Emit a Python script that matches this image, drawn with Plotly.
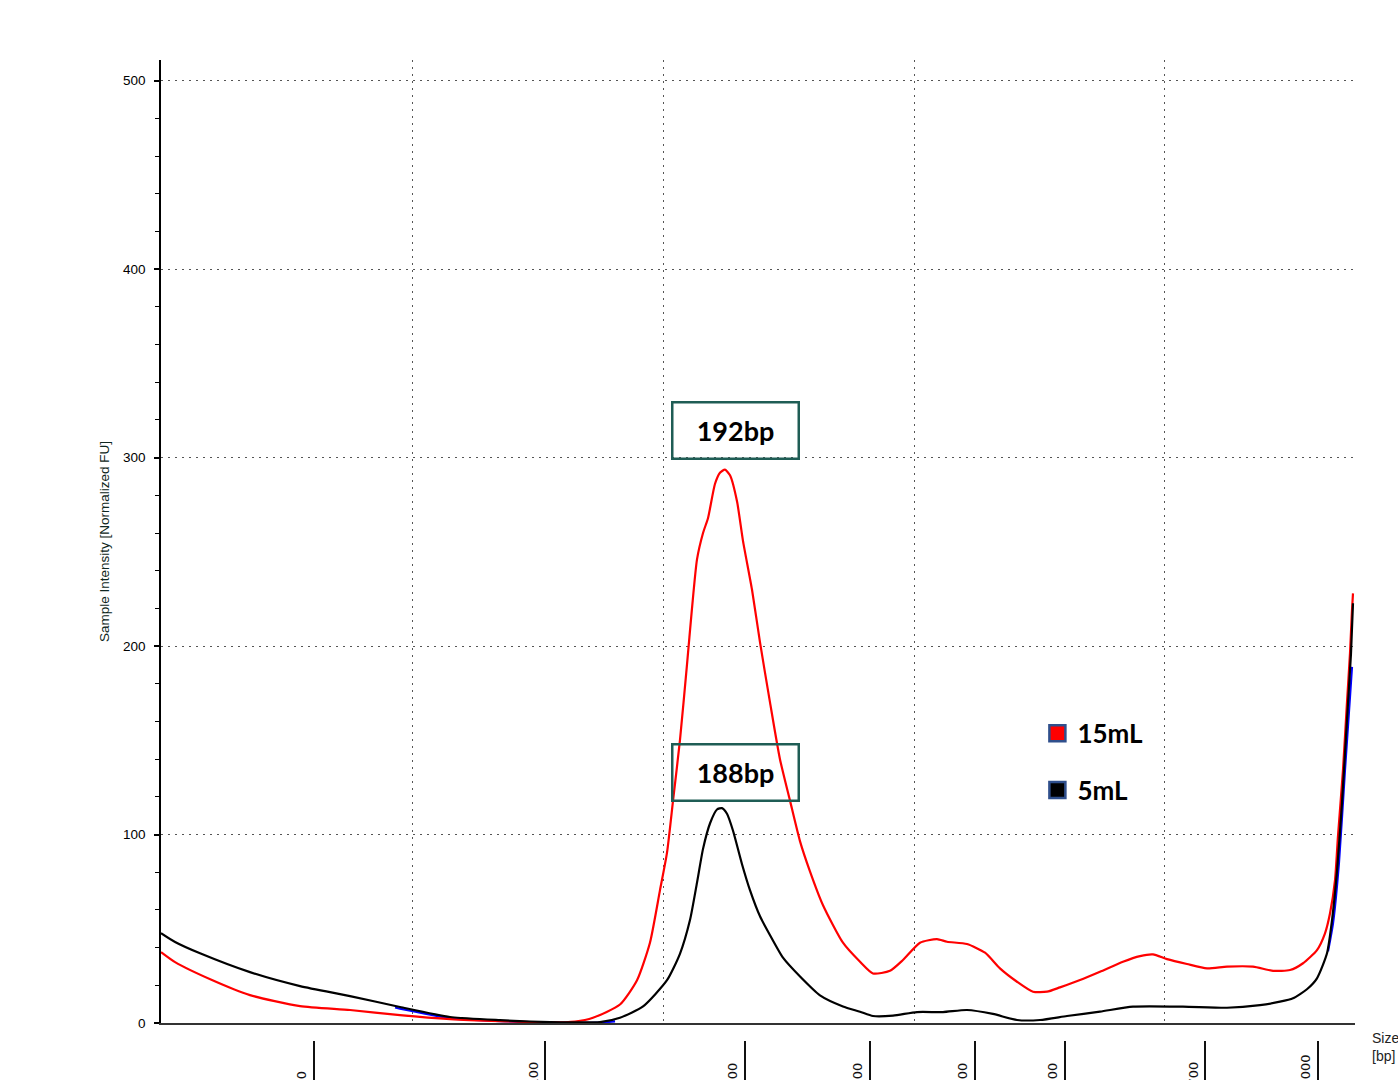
import plotly.graph_objects as go

# Electropherogram: migration position (a.u.) vs. normalized fluorescence (FU)
pos_15ml = [0, 1.12, 4.06, 7.09, 11.08, 15.06, 19.04, 23.03, 27.01, 31.0, 32.99, 34.42,
            36.57, 37.93, 38.96, 39.76, 40.32, 40.80, 41.35, 41.91, 42.31, 42.71, 43.19,
            43.59, 44.14, 44.54, 44.94, 45.34, 45.90, 46.37, 47.09, 47.73, 48.53, 49.32,
            50.12, 50.92, 51.71, 52.75, 54.34, 55.70, 56.73, 58.09, 59.12, 60.48, 61.83,
            62.63, 64.22, 65.66, 66.85, 68.21, 69.48, 70.60, 71.63, 73.23, 74.82, 76.65,
            78.01, 79.04, 80.16, 81.75, 83.35, 84.94, 87.01, 88.61, 89.96, 91.0, 92.11,
            92.75, 93.15, 93.55, 93.78, 94.18, 94.50, 94.74, 94.90, 94.98]
fu_15ml = [37.6, 32.3, 22.8, 14.8, 9.0, 6.9, 4.2, 2.1, 1.0, 0.3, 0.8, 2.8,
           9.8, 22.7, 42.6, 70.5, 90.4, 118, 150, 190, 220, 246, 260,
           268, 286, 292, 293.6, 290.6, 276.7, 256, 230, 202, 170, 140,
           118, 96.4, 80.5, 62.5, 42.6, 32.5, 26.3, 27.7, 33.4, 42.6, 44.5,
           43.1, 41.9, 37.3, 29, 21.9, 16.6, 16.6, 18.9, 22.8, 27.2, 32.5,
           35.5, 36.4, 33.9, 31.3, 29, 29.9, 29.9, 27.7, 28.1, 31.7, 38.7,
           47.6, 58.2, 76, 98.8, 134, 170, 196, 219, 228]

pos_5ml = [0, 1.12, 3.11, 7.09, 11.08, 15.06, 19.04, 23.03, 27.01, 31.0, 34.98, 36.57,
           38.41, 40.32, 41.35, 42.15, 42.71, 43.19, 43.75, 44.30, 44.70, 45.10, 45.58,
           46.29, 46.93, 47.73, 48.53, 49.56, 50.92, 52.51, 54.34, 55.70, 56.73, 58.33,
           60.24, 62.31, 64.22, 66.29, 68.21, 70.04, 72.19, 74.82, 77.45, 81.43, 84.94,
           87.57, 89.16, 90.20, 91.31, 92.11, 92.91, 93.31, 93.71, 94.10, 94.50, 94.82,
           94.98]
fu_5ml = [47.7, 43, 37, 27, 19.6, 14.3, 8.5, 3.2, 1.5, 0.5, 0.5, 2.8,
          8.8, 22.7, 36.7, 54.6, 74.5, 92.4, 106, 113.3, 114, 111, 102,
          84.4, 70.5, 56.6, 46.6, 34.7, 24.7, 14.7, 8.8, 6.0, 3.7, 3.9,
          5.8, 5.8, 6.9, 4.8, 1.6, 1.6, 3.7, 6.0, 8.7, 8.7, 8.1,
          9.5, 11.3, 13.1, 17.9, 23.7, 37, 54.6, 81, 116.6, 160.7, 196,
          222.7]

# Third (unlabelled) sample, mostly hidden under the 5mL trace
pos_ref = [18.65, 19.04, 21.03, 23.03, 25.42, 28.61, 31.79, 34.98, 36.18, None,
           92.99, 93.39, 93.86, 94.34, 94.74, 94.90]
fu_ref = [8.2, 7.6, 5.0, 2.6, 1.5, 0.6, 0.2, 0.2, 0.9, None,
          38, 53, 84.8, 134, 173, 189]

# Ladder sizes and their migration positions
ladder_pos = [12.19, 30.60, 46.53, 56.49, 64.86, 72.03, 83.19, 92.19]
ladder_bp = ["50", "100", "200", "300", "400", "500", "700", "1000"]

# Peak call labels: (text, position, FU level of the label box)
peak_labels = [("192bp", 45.74, 314.4), ("188bp", 45.74, 132.7)]

series_names = ["15mL", "5mL"]
series_colors = ["#ff0000", "#000000"]

x_range = [0, 95.14]
y_range = [0, 511]
grid_dash = "1.5px,5.5px"
curve = dict(width=2.2, shape="spline", smoothing=0.6)

fig = go.Figure()

fig.add_trace(go.Scatter(x=pos_ref, y=fu_ref, mode="lines", showlegend=False,
                         line=dict(color="#0000ff", **curve), hoverinfo="skip"))
fig.add_trace(go.Scatter(x=pos_15ml, y=fu_15ml, mode="lines", showlegend=False,
                         line=dict(color=series_colors[0], **curve)))
fig.add_trace(go.Scatter(x=pos_5ml, y=fu_5ml, mode="lines", showlegend=False,
                         line=dict(color=series_colors[1], **curve)))

# Empty trace on the ladder axis so its ticks are drawn
fig.add_trace(go.Scatter(x=[None], y=[None], xaxis="x2", yaxis="y", mode="lines",
                         showlegend=False, hoverinfo="skip"))

# Legend entries as filled squares
for name, col in zip(series_names, series_colors):
    fig.add_trace(go.Scatter(x=[None], y=[None], mode="markers", name=name,
                             legendgroup=name,
                             marker=dict(symbol="square", size=16, color=col,
                                         line=dict(color="#2f4f8c", width=2.5))))

annotations = []
for bp, p in zip(ladder_bp, ladder_pos):
    annotations.append(dict(x=p, xref="x", y=-0.05, yref="paper", text=bp,
                            textangle=-90, showarrow=False, xanchor="center",
                            yanchor="bottom", xshift=-12,
                            font=dict(family="DejaVu Sans", size=13, color="#111")))

for text, p, lvl in peak_labels:
    annotations.append(dict(x=p, xref="x", y=lvl, yref="y", text=f"<b>{text}</b>",
                            showarrow=False, xanchor="center", yanchor="middle",
                            width=124, height=54, align="center",
                            bordercolor="#1f5d55", borderwidth=2.5, borderpad=0,
                            bgcolor="rgba(255,255,255,0)",
                            font=dict(family="Lato", size=27, color="#000")))

annotations.append(dict(x=1.0126, xref="paper", y=0.0125, yref="paper",
                        text="Size<br>[bp]", showarrow=False, xanchor="left",
                        yanchor="top", align="left",
                        font=dict(family="Liberation Sans", size=14, color="#222")))

fig.update_layout(
    width=1398, height=1080,
    margin=dict(l=161, r=43, t=60, b=40, autoexpand=False),
    paper_bgcolor="white", plot_bgcolor="white",
    showlegend=True,
    legend=dict(x=0.734, y=0.337, xanchor="left", yanchor="top",
                bgcolor="rgba(0,0,0,0)", tracegroupgap=20,
                font=dict(family="Lato", size=26, color="#000", weight="bold"),
                itemclick=False),
    annotations=annotations,
    xaxis=dict(anchor="y", range=x_range, tickvals=[20, 40, 60, 80],
               showticklabels=False, ticks="", showgrid=True, gridcolor="#555",
               gridwidth=1.3, griddash=grid_dash, showline=True, linecolor="#333",
               linewidth=1.5, zeroline=False, automargin=False),
    xaxis2=dict(overlaying="x", anchor="free", position=0, range=x_range,
                tickvals=ladder_pos, ticks="outside", ticklen=48, tickwidth=1.5,
                tickcolor="#111", showticklabels=False, showline=False,
                showgrid=False, zeroline=False, automargin=False),
    yaxis=dict(domain=[0.01735, 1], range=y_range, tickvals=[0, 100, 200, 300, 400, 500],
               ticks="outside", ticklen=5, tickwidth=1.5, tickcolor="#000",
               showline=True, linecolor="#000", linewidth=1.5, automargin=False,
               showgrid=True, gridcolor="#555", gridwidth=1.3, griddash=grid_dash,
               zeroline=False, ticklabelstandoff=6,
               tickfont=dict(family="Liberation Sans", size=13.5, color="#000"),
               minor=dict(dtick=20, ticks="outside", ticklen=4, tickcolor="#000",
                          tickwidth=1.2, showgrid=False),
               title=dict(text="Sample Intensity [Normalized FU]", standoff=10,
                          font=dict(family="Liberation Sans", size=13.5, color="#0d2620"))),
)

fig.write_html("out.html")
